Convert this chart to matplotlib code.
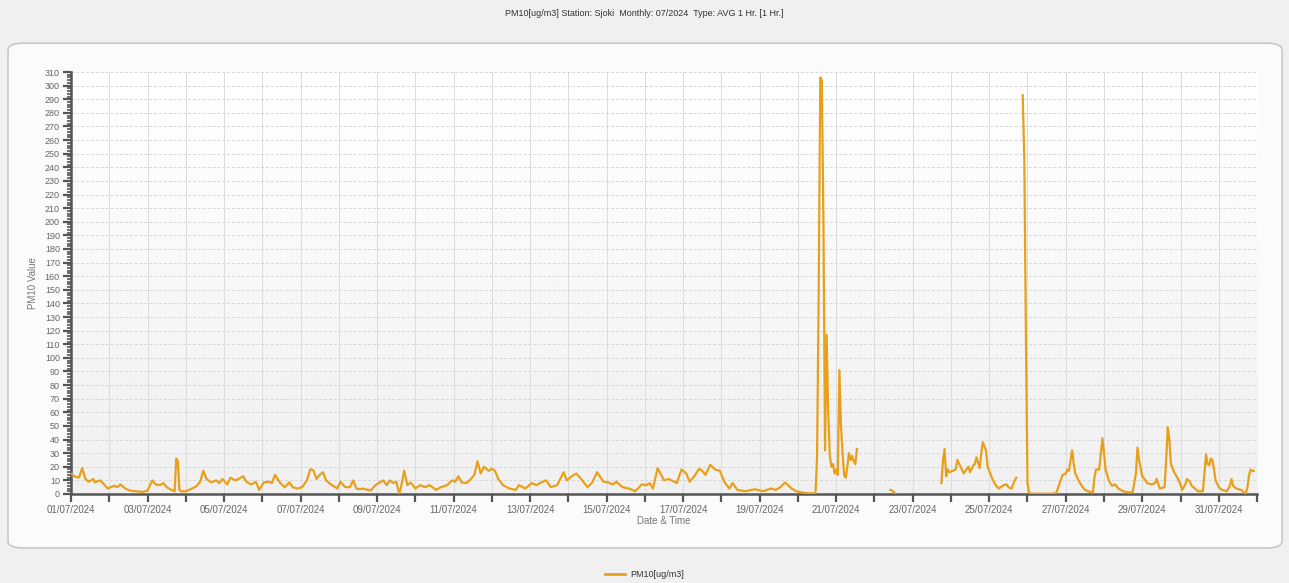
import numpy as np
import pandas as pd
import matplotlib
matplotlib.use("Agg")
import matplotlib.pyplot as plt
import matplotlib.dates as mdates
from matplotlib.patches import FancyBboxPatch
from matplotlib.ticker import MultipleLocator, FuncFormatter
from matplotlib.lines import Line2D

plt.rcParams['font.family'] = ['Liberation Sans', 'DejaVu Sans']

# Hours since 01/07/2024 00:00 and PM10 readings (NaN = missing data)
hours = [
    0, 2, 5, 7, 9, 11, 14, 15, 18, 20, 23, 27, 29, 31, 34, 37, 41, 45, 48,
    51, 53, 56, 58, 60, 63, 65, 66, 67, 68, 69, 72, 76, 79, 81, 83, 85, 88,
    91, 93, 95, 98, 100, 103, 105, 108, 110, 113, 116, 118, 121, 124, 126,
    128, 131, 134, 137, 139, 142, 145, 148, 150, 152, 154, 156, 158, 160,
    163, 167, 169, 172, 175, 177, 179, 181, 183, 188, 191, 193, 196, 198,
    200, 202, 204, 206, 207, 209, 211, 213, 216, 219, 222, 225, 229, 232,
    236, 239, 241, 243, 245, 248, 250, 253, 255, 257, 259, 262, 264, 266,
    268, 271, 275, 279, 281, 285, 289, 292, 295, 298, 301, 305, 309, 311,
    314, 317, 320, 324, 327, 330, 334, 337, 340, 342, 346, 350, 354, 358,
    361, 363, 365, 368, 372, 375, 380, 383, 386, 388, 391, 394, 396, 398,
    401, 404, 407, 410, 413, 415, 418, 423, 429, 434, 439, 442, 445, 448,
    452, 455, 459, 463, 467,
    468, 469, 470, 471, 472, 473, 474, 475, 476, 477, 478, 479, 480, 481,
    482, 483, 484, 485, 486, 487, 488, 489, 490, 491, 492, 493,
    494,
    514, 515, 516, 517,
    518,
    546, 547, 548, 549, 550, 551, 553, 555, 556, 558, 560, 561, 563, 564,
    566, 567, 568, 570, 571, 572, 574, 575, 578, 580, 582, 585, 587, 588,
    590, 592, 593,
    594,
    597, 598, 599, 600, 601, 602, 606, 610, 614, 618, 622, 624, 625, 626,
    628, 629, 630, 632, 634, 636, 638, 641, 642, 643, 645, 647, 648, 649,
    651, 653, 655, 657, 660, 664, 666, 668, 669, 670, 672, 674, 675, 678,
    680, 681, 683, 686, 687, 688, 689, 690, 692, 694, 696, 697, 699, 700,
    702, 703, 705, 707, 710, 711, 712, 713, 714, 715, 716, 717, 718, 720,
    722, 725, 727, 728, 729, 731, 734, 736, 737, 738, 739, 740, 741, 742,
]
pm10 = [
    15, 13, 12, 19, 11, 9, 11, 8.5, 10, 8, 4, 6, 5, 7, 4, 2.5, 2, 1.5, 2.5,
    10, 7, 6.5, 8, 5, 3, 2, 26, 24, 3, 2, 2, 4, 6, 9, 17, 11, 8.5,
    10, 8, 11, 7, 12, 10, 11, 13, 9, 7, 9, 3, 8.5, 9, 8,
    14, 8.5, 5, 8.5, 5, 4, 5, 10, 18, 17.5, 11, 14, 16, 10,
    7, 4, 9, 5, 5, 10, 4, 3.5, 4, 2.5, 6.5, 8, 10, 6.5,
    10, 8, 9, 0, 5, 17, 6.5, 8.5, 4, 6.5, 5, 6.5, 3, 5,
    6.5, 10, 9, 13, 8.5, 8, 10, 14, 24, 15, 20, 17, 18.5, 17,
    11, 6.5, 4, 3, 6.5, 4, 8, 6.5, 8.5, 10, 5, 6.5, 16, 10,
    13, 15, 11, 5, 8.5, 16, 9, 8.5, 7, 9, 5, 4, 2, 7,
    6.5, 8, 4, 19, 10, 11, 8, 18, 15, 9, 13, 18.5, 17, 14,
    21.5, 18, 17, 8.5, 4, 8, 3, 2, 3.5, 2, 4, 3, 5, 8.5,
    4, 2, 1, 0.5, 0.5,
    27, 145, 306, 304, 199, 32, 117, 60, 28, 20, 22, 15, 18, 14,
    91, 50, 30, 14, 12, 20, 30, 25, 28, 24, 22, 33,
    np.nan,
    3, 2.5, 1.5, 0.5,
    np.nan,
    8, 25, 33, 13, 18, 16, 17, 18, 25, 20, 15, 17, 20, 16,
    21, 22, 27, 19, 30, 38, 32, 20, 11, 6.5, 4, 6.5, 7, 5,
    4, 10, 12,
    np.nan,
    293, 246, 118, 8, 1, 0.3, 0.2, 0.2, 0.2, 0.5, 14, 15, 18, 17,
    32, 22, 15, 10, 6, 3, 2, 1, 12, 18, 18, 41, 30, 18,
    10, 6, 7, 4, 2, 1, 1.5, 15, 34, 25, 13, 10, 8, 7,
    8, 11, 4, 5, 25, 49, 40, 22, 16, 12, 7, 3, 7, 11,
    9, 6, 4, 2, 2, 15, 29, 22, 21, 26, 25, 18, 10, 5,
    3, 2, 6, 11, 6, 4, 3, 1, 0.5, 5, 14, 18, 17, 17,
]

start = pd.Timestamp('2024-07-01')
times = start + pd.to_timedelta(hours, unit='h')

line_color = '#e8a01c'
bg = '#f0f0f0'

fig = plt.figure(figsize=(12.89, 5.83), dpi=100, facecolor=bg)

# rounded panel behind the chart
panel = FancyBboxPatch((0.0062, 0.060), 0.9884, 0.866,
                       boxstyle="round,pad=0,rounding_size=0.012",
                       transform=fig.transFigure, facecolor='#fbfbfb',
                       edgecolor='#c8c8c8', linewidth=1.2, zorder=-5)
fig.patches.append(panel)

ax = fig.add_axes([0.0551, 0.1527, 0.9201, 0.7238], zorder=2)
ax.set_facecolor('none')

# soft vertical gradient in the plot area
grad = np.linspace(1.0, 0.94, 256).reshape(-1, 1)
ax.imshow(grad, cmap='gray', vmin=0, vmax=1, aspect='auto',
          extent=[0, 1, 0, 1], transform=ax.transAxes, zorder=0)

ax.plot(times, pm10, color=line_color, linewidth=1.6, zorder=3)

ax.set_xlim(start, start + pd.Timedelta(days=31))
ax.set_ylim(0, 310)

# y axis
ax.yaxis.set_major_locator(MultipleLocator(10))
ax.yaxis.set_minor_locator(MultipleLocator(2))
ax.grid(axis='y', which='major', color='#d6d6d6', linestyle=(0, (3, 2)), linewidth=0.7)

# x axis: tick every day, label every other day
ax.xaxis.set_major_locator(mdates.DayLocator())
def day_fmt(x, pos):
    d = mdates.num2date(x)
    return d.strftime('%d/%m/%Y') if d.day % 2 == 1 and d.month == 7 else ''
ax.xaxis.set_major_formatter(FuncFormatter(day_fmt))
ax.grid(axis='x', which='major', color='#dcdcdc', linestyle='-', linewidth=0.7)
ax.set_axisbelow(True)

for side in ('top', 'right'):
    ax.spines[side].set_visible(False)
for side in ('left', 'bottom'):
    ax.spines[side].set_color('#555555')
    ax.spines[side].set_linewidth(1.8)

ax.tick_params(axis='both', which='major', length=6, width=1.6, color='#555555',
               labelsize=7, labelcolor='#666666', pad=2)
ax.tick_params(axis='y', which='major', labelsize=6.5)
ax.tick_params(axis='y', which='minor', length=3, width=1.2, color='#555555')

ax.set_ylabel('PM10 Value', fontsize=7, color='#777777')
ax.yaxis.set_label_coords(-0.028, 0.5)
ax.set_xlabel('Date & Time', fontsize=7, color='#777777', labelpad=1)

fig.text(0.5, 0.976, 'PM10[ug/m3] Station: Sjoki  Monthly: 07/2024  Type: AVG 1 Hr. [1 Hr.]',
         ha='center', va='center', fontsize=6.5, color='#333333')

handle = Line2D([], [], color=line_color, linewidth=2)
fig.legend([handle], ['PM10[ug/m3]'], loc='center', bbox_to_anchor=(0.5, 0.015),
           frameon=False, fontsize=6.5, handlelength=2.2, handletextpad=0.6,
           labelcolor='#333333')

fig.savefig('out.png', dpi=100, facecolor=bg)
